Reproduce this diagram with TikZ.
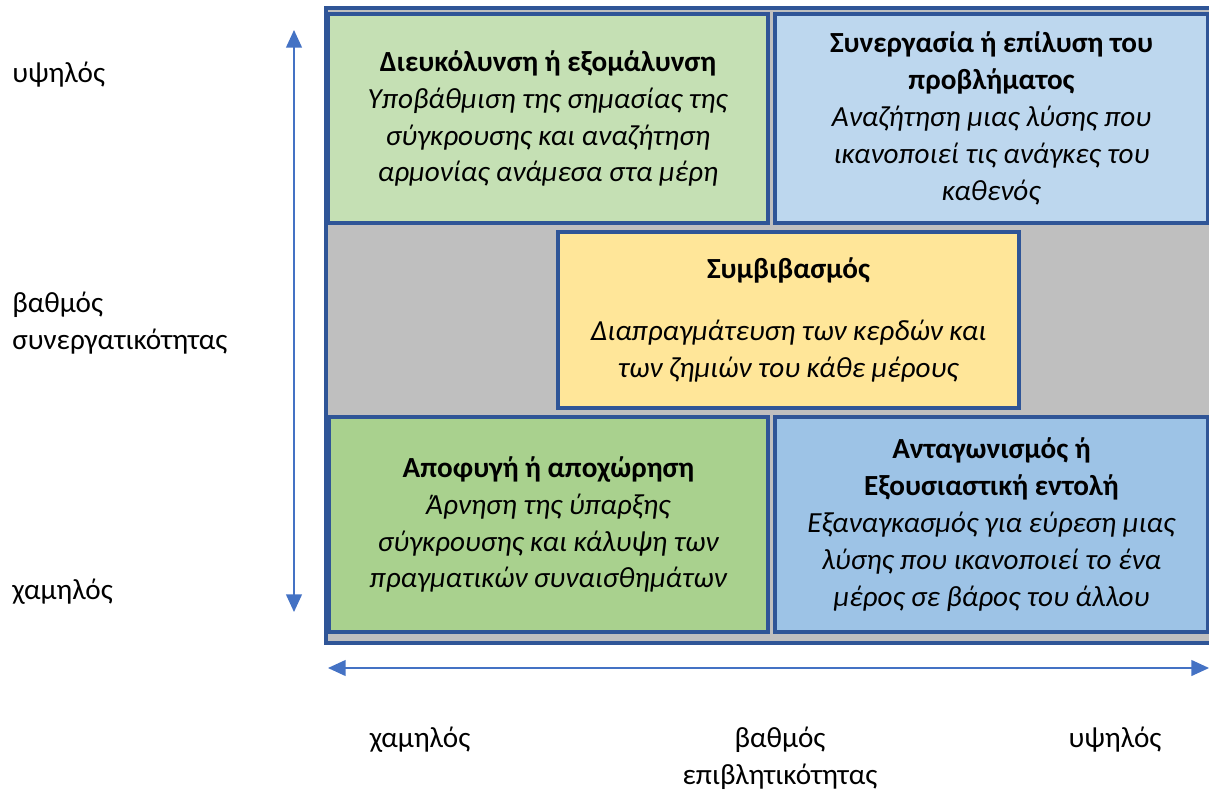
\documentclass[tikz,border=0pt]{standalone}
\usepackage{fontspec}
\setmainfont{Carlito}
\usetikzlibrary{arrows.meta}

\definecolor{frameblue}{HTML}{2F5597}
\definecolor{axisblue}{HTML}{4472C4}
\definecolor{framegray}{HTML}{BFBFBF}
\definecolor{greenlight}{HTML}{C5E0B4}
\definecolor{greendark}{HTML}{A9D18E}
\definecolor{bluelight}{HTML}{BDD7EE}
\definecolor{bluedark}{HTML}{9DC3E6}
\definecolor{yellowbox}{HTML}{FFE699}

\begin{document}
\begin{tikzpicture}[x=0.02cm,y=-0.02cm,
  quad/.style={draw=frameblue,line width=1.9pt,align=center,inner sep=0pt,
    font=\fontsize{16.6}{21}\selectfont},
  axlabel/.style={inner sep=0pt,font=\fontsize{16.6}{21}\selectfont},
  axarrow/.style={draw=axisblue,line width=0.8pt,
    {Triangle[width=9pt,length=10pt]}-{Triangle[width=9pt,length=10pt]}}]
  \useasboundingbox (0,0) rectangle (1209,791);
  % gray frame
  \draw[fill=framegray,draw=frameblue,line width=1.9pt] (326,8) rectangle (1216,643);
  % the five styles
  \node[quad,fill=greenlight,minimum width=8.8cm,minimum height=4.18cm] (avoidup) at (548,118.5)
    {\textbf{Διευκόλυνση ή εξομάλυνση}\\
     \textit{Υποβάθμιση της σημασίας της}\\
     \textit{σύγκρουσης και αναζήτηση}\\
     \textit{αρμονίας ανάμεσα στα μέρη}};
  \node[quad,fill=bluelight,minimum width=8.66cm,minimum height=4.18cm] (collab) at (991.5,118.5)
    {\textbf{Συνεργασία ή επίλυση του}\\
     \textbf{προβλήματος}\\
     \textit{Αναζήτηση μιας λύσης που}\\
     \textit{ικανοποιεί τις ανάγκες του}\\
     \textit{καθενός}};
  \node[quad,fill=yellowbox,minimum width=9.22cm,minimum height=3.52cm] (compro) at (788.5,320)
    {\textbf{Συμβιβασμός}\\[14pt]
     \textit{Διαπραγμάτευση των κερδών και}\\
     \textit{των ζημιών του κάθε μέρους}};
  \node[quad,fill=greendark,minimum width=8.78cm,minimum height=4.3cm] (avoid) at (548.5,524.5)
    {\textbf{Αποφυγή ή αποχώρηση}\\
     \textit{Άρνηση της ύπαρξης}\\
     \textit{σύγκρουσης και κάλυψη των}\\
     \textit{πραγματικών συναισθημάτων}};
  \node[quad,fill=bluedark,minimum width=8.66cm,minimum height=4.3cm] (compete) at (991.5,524.5)
    {\textbf{Ανταγωνισμός ή}\\
     \textbf{Εξουσιαστική εντολή}\\
     \textit{Εξαναγκασμός για εύρεση μιας}\\
     \textit{λύσης που ικανοποιεί το ένα}\\
     \textit{μέρος σε βάρος του άλλου}};
  % axes
  \coordinate (vtop) at (294,30);
  \coordinate (vbot) at (294,612);
  \coordinate (hleft) at (328,668);
  \coordinate (hright) at (1209,668);
  \draw[axarrow] (vtop) -- (vbot);
  \draw[axarrow] (hleft) -- (hright);
  % axis labels
  \node[axlabel,anchor=west] (yhigh) at (12,75) {υψηλός};
  \node[axlabel,anchor=west,align=left] (yname) at (12,323) {βαθμός\\συνεργατικότητας};
  \node[axlabel,anchor=west] (ylow) at (12,592) {χαμηλός};
  \node[axlabel] (xlow) at (420,740) {χαμηλός};
  \node[axlabel,align=center] (xname) at (780,758) {βαθμός\\επιβλητικότητας};
  \node[axlabel] (xhigh) at (1115,740) {υψηλός};
\end{tikzpicture}
\end{document}
